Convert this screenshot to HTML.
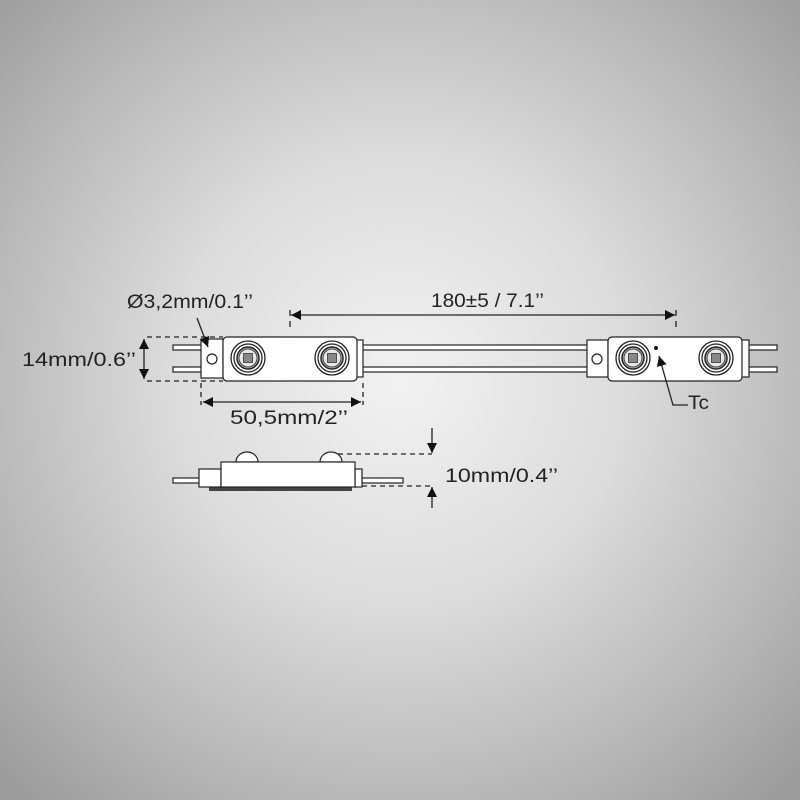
<!DOCTYPE html>
<html><head><meta charset="utf-8"><style>
html,body{margin:0;padding:0;width:800px;height:800px;overflow:hidden}
body{background:radial-gradient(ellipse 560px 560px at 400px 380px,#f2f2f2 0%,#dcdcdc 40%,#b8b8b8 75%,#9c9c9c 100%)}
svg{position:absolute;left:0;top:0}
text{font-family:"Liberation Sans",sans-serif;fill:#222;font-size:19px}
</style></head><body>
<svg width="800" height="800" viewBox="0 0 800 800">
<defs>
<marker id="a" viewBox="0 0 10 10" refX="10" refY="5" markerWidth="10" markerHeight="10" markerUnits="userSpaceOnUse" orient="auto-start-reverse"><path d="M0,0L10,5L0,10z" fill="#111"/></marker>
<g id="led"><circle r="17" fill="#fff" stroke="#222" stroke-width="1.3"/><circle r="14" fill="none" stroke="#222" stroke-width="1.3"/><circle r="11" fill="#bbb" stroke="#222" stroke-width="1.5"/><circle r="9" fill="#e8e8e8" stroke="#444"/><rect x="-4.5" y="-4.5" width="9" height="9" fill="#888" stroke="#333" stroke-width="0.8"/></g>
</defs>
<g stroke="#222" stroke-width="1.2" fill="#fff">
<rect x="360" y="345" width="232" height="5"/><rect x="360" y="367" width="232" height="5"/>
<rect x="173" y="345" width="30" height="5"/><rect x="173" y="367" width="30" height="5"/>
<rect x="746" y="345" width="31" height="5"/><rect x="746" y="367" width="31" height="5"/>
<rect x="201" y="339" width="22" height="39"/>
<circle cx="212" cy="359" r="5"/>
<rect x="356" y="340" width="7" height="37"/>
<rect x="223" y="337" width="134" height="44" rx="4"/>
<rect x="587" y="340" width="21" height="37"/>
<circle cx="597" cy="359" r="5"/>
<rect x="741" y="340" width="8" height="37"/>
<rect x="608" y="337" width="134" height="44" rx="4"/>
</g>
<use href="#led" x="248" y="358"/><use href="#led" x="332" y="358"/>
<use href="#led" x="633" y="358"/><use href="#led" x="716" y="358"/>
<circle cx="656" cy="348" r="2" fill="#111"/>
<g stroke="#222" stroke-width="1.3" fill="none">
<path d="M147,337H223M147,381H223" stroke-dasharray="5,4"/>
<line x1="144" y1="339" x2="144" y2="379" marker-start="url(#a)" marker-end="url(#a)"/>
<path d="M201,383V405M363,383V405" stroke-dasharray="5,4"/>
<line x1="203" y1="402" x2="361" y2="402" marker-start="url(#a)" marker-end="url(#a)"/>
<path d="M290,310V330M676,310V330" stroke-dasharray="6,5"/>
<line x1="291" y1="315" x2="675" y2="315" marker-start="url(#a)" marker-end="url(#a)"/>
<line x1="197" y1="318" x2="208" y2="347" marker-end="url(#a)"/>
<path d="M688,405H673L659,356" marker-end="url(#a)"/>
<path d="M338,454H432M362,486H432" stroke-dasharray="5,4"/>
<line x1="432" y1="428" x2="432" y2="453" marker-end="url(#a)"/>
<line x1="432" y1="508" x2="432" y2="487" marker-end="url(#a)"/>
</g>
<g stroke="#222" stroke-width="1.2" fill="#fff">
<rect x="209" y="486" width="143" height="5" fill="#444" stroke="none"/>
<path d="M236,462A11,10 0 0 1 258,462Z"/><path d="M320,462A11,10 0 0 1 342,462Z"/>
<rect x="173" y="478" width="30" height="5"/><rect x="362" y="478" width="41" height="5"/>
<rect x="199" y="469" width="22" height="18"/>
<rect x="355" y="469" width="7" height="18"/>
<rect x="221" y="462" width="134" height="25"/>
</g>
<text x="127" y="308" textLength="126" lengthAdjust="spacingAndGlyphs">Ø3,2mm/0.1’’</text>
<text x="22" y="366" textLength="114" lengthAdjust="spacingAndGlyphs">14mm/0.6’’</text>
<text x="230" y="424" textLength="118" lengthAdjust="spacingAndGlyphs">50,5mm/2’’</text>
<text x="431" y="307" textLength="113" lengthAdjust="spacingAndGlyphs">180±5 / 7.1’’</text>
<text x="688" y="409" textLength="21" lengthAdjust="spacingAndGlyphs">Tc</text>
<text x="445" y="482" textLength="113" lengthAdjust="spacingAndGlyphs">10mm/0.4’’</text>
</svg>
</body></html>
